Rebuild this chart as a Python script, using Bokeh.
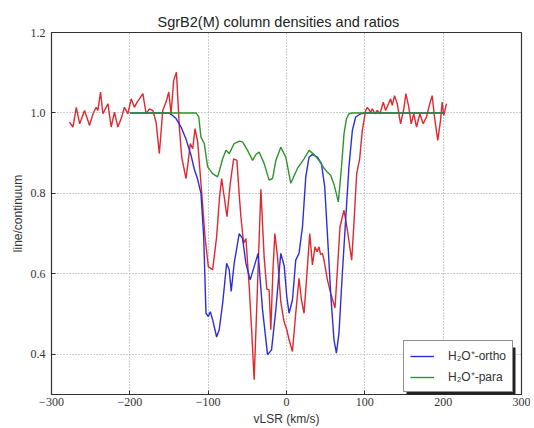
from bokeh.plotting import figure
from bokeh.models import Range1d, Legend, LegendItem, FixedTicker, BoxAnnotation
from bokeh.embed import file_html
from bokeh.resources import INLINE

# observed spectrum (line/continuum)
red_v = [-277, -272.6, -268.4, -264, -257.8, -251.4, -247, -243, -240.8, -237.4, -234.4, -228,
         -223.8, -219.6, -215.3, -211, -206.9, -202.5, -198.3, -194.1, -190.7, -187.8, -183.4,
         -179.2, -175, -170.7, -166.5, -162.3, -158, -153.8, -150.3, -147.4, -144, -140.5,
         -136.8, -133.8, -128.3, -125.3, -122.8, -119.7, -116.8, -113.4, -109.2, -104, -99.8,
         -94.3, -89.2, -85.5, -82.8, -79.5, -76, -71.8, -67.5, -63.3, -60.5, -58.2, -54.8,
         -51.8, -47.6, -44.5, -41.3, -37, -32.7, -28.5, -25.1, -22.2, -20, -17.5, -14.9,
         -11.5, -7.3, -3, 0.4, 3.3, 7.6, 11.8, 16, 19.1, 22.4, 26.7, 29.7, 33.1, 36.4, 39,
         41.5, 43.5, 45.9, 47.9, 52.2, 56.4, 61.9, 65, 68.3, 73.4, 77.7, 83.2, 86.1, 89.6,
         93.4, 96.8, 101, 103.2, 107.4, 109.6, 112.9, 115.9, 119.2, 123.6, 126.5, 129.4,
         132.9, 135, 137.9, 141.4, 145.6, 149.8, 152.4, 156.2, 159.2, 162.5, 166, 170.2,
         174.5, 178.7, 182.9, 186, 188.9, 193.1, 196.6, 198.7, 200.8, 204.2]
red_y = [0.977, 0.965, 1.014, 0.973, 1.006, 0.969, 0.998, 1.014, 1.006, 1.052, 0.998, 1.023,
         0.965, 1.002, 0.965, 0.986, 1.014, 0.998, 1.035, 1.014, 1.027, 1.035, 1.048,
         0.998, 1.010, 1.006, 0.977, 0.899, 1.006, 1.027, 1.052, 0.998, 1.081, 1.101,
         0.965, 0.890, 0.837, 0.882, 0.924, 0.911, 0.961, 0.928, 0.825, 0.692, 0.618,
         0.610, 0.692, 0.790, 0.837, 0.791, 0.742, 0.825, 0.886, 0.882, 0.800, 0.742, 0.676,
         0.688, 0.568, 0.460, 0.337, 0.570, 0.810, 0.640, 0.562, 0.560, 0.461, 0.600, 0.700,
         0.643, 0.530, 0.480, 0.461, 0.436, 0.407, 0.502, 0.589, 0.535, 0.502, 0.618, 0.700,
         0.622, 0.667, 0.655, 0.667, 0.648, 0.651, 0.634, 0.585, 0.552, 0.515, 0.610, 0.717,
         0.758, 0.709, 0.634, 0.725, 0.849, 0.886, 0.957, 1.006, 1.014, 1.002, 1.010, 0.998,
         1.006, 0.998, 1.027, 1.006, 1.019, 1.035, 1.019, 1.043, 1.023, 0.973, 1.010, 1.048,
         1.014, 0.973, 0.998, 0.965, 0.998, 0.973, 0.990, 1.023, 1.043, 0.990, 0.932, 0.981,
         1.027, 0.994, 1.023]

# H2O+ ortho model
ortho_v = [-200, -150, -147, -141, -134.6, -128.3, -121.9, -117.7, -113.4, -109.2, -105.7,
           -102.8, -99.8, -97.3, -94.3, -89.2, -85.9, -81.5, -76.4, -73.1, -70.6, -66.8,
           -60.4, -56.1, -51.8, -46.4, -41.3, -36.2, -30.6, -24.2, -19.1, -13.6, -7.3, -3,
           0.4, 3.3, 7.6, 11.8, 16, 20.4, 24.6, 28.8, 33.1, 39.5, 44.6, 48.8, 52.2, 56.4,
           60.6, 63.7, 67, 71.3, 75.5, 79.7, 84.1, 88.3, 94.6, 100, 200]
ortho_y = [1.0, 1.0, 0.996, 0.986, 0.965, 0.935, 0.895, 0.860, 0.835, 0.800, 0.692,
           0.502, 0.494, 0.506, 0.486, 0.443, 0.461, 0.527, 0.626, 0.610, 0.556, 0.626,
           0.700, 0.688, 0.626, 0.585, 0.618, 0.651, 0.511, 0.399, 0.411, 0.511, 0.651, 0.620,
           0.543, 0.502, 0.535, 0.634, 0.651, 0.717, 0.841, 0.890, 0.897, 0.890, 0.874, 0.816,
           0.700, 0.552, 0.436, 0.403, 0.453, 0.602, 0.734, 0.866, 0.957, 0.990, 0.998, 1.0, 1.0]

# H2O+ para model
para_v = [-200, -115.5, -112, -109.2, -105, -102.5, -100.6, -94.3, -87.9, -81.5, -77.3, -73.1,
          -66.8, -60, -56.1, -49.7, -43.3, -38.5, -34.9, -28.5, -22.2, -17.8, -13.6, -7.3,
          -0.9, 5.5, 10, 14, 22.4, 28.8, 35, 41.5, 47, 52, 56.4, 61, 66.2, 70, 73.4, 76.5,
          79.7, 84, 200]
para_y = [1.0, 1.0, 0.990, 0.940, 0.924, 0.890, 0.866, 0.849, 0.841, 0.886, 0.907, 0.899,
          0.924, 0.930, 0.928, 0.907, 0.882, 0.898, 0.903, 0.874, 0.833, 0.837, 0.882, 0.915,
          0.890, 0.825, 0.845, 0.862, 0.886, 0.907, 0.897, 0.882, 0.865, 0.853, 0.845, 0.820,
          0.779, 0.860, 0.948, 0.985, 0.998, 1.0, 1.0]

x_ticks = [-300, -200, -100, 0, 100, 200, 300]
x_tick_labels = ["\u2212300", "\u2212200", "\u2212100", "0", "100", "200", "300"]
y_ticks = [0.4, 0.6, 0.8, 1.0, 1.2]
y_tick_labels = ["0.4", "0.6", "0.8", "1.0", "1.2"]

title = "SgrB2(M) column densities and ratios"
x_label = "vLSR (km/s)"
y_label = "line/continuum"
legend_labels = ["H\u2082O\u207a-ortho", "H\u2082O\u207a-para"]

p = figure(width=530, height=428, x_range=Range1d(-300, 300), y_range=Range1d(0.3, 1.2),
           output_backend="svg", toolbar_location=None, title=title,
           min_border_left=51, min_border_right=9, min_border_top=32, min_border_bottom=33)

p.title.align = "left"
p.title.offset = 106
p.title.text_font = "Liberation Sans"
p.title.text_font_size = "14.5px"
p.title.text_font_style = "normal"
p.title.text_color = "#222222"
p.title.standoff = 6

p.outline_line_color = "#333333"
p.outline_line_width = 1.2
p.background_fill_color = "white"
p.border_fill_color = "white"

p.xaxis.ticker = FixedTicker(ticks=x_ticks)
p.yaxis.ticker = FixedTicker(ticks=y_ticks)
p.xaxis.major_label_overrides = {t: l for t, l in zip(x_ticks, x_tick_labels)}
p.yaxis.major_label_overrides = {t: l for t, l in zip(y_ticks, y_tick_labels)}

for ax in (p.xaxis, p.yaxis):
    ax.major_tick_in = 4
    ax.major_tick_out = 0
    ax.minor_tick_in = 0
    ax.minor_tick_out = 0
    ax.axis_line_color = "#333333"
    ax.major_tick_line_color = "#333333"
    ax.major_label_text_font = "Liberation Serif"
    ax.major_label_text_font_size = "12px"
    ax.major_label_text_color = "#333333"
    ax.axis_label_text_font = "Liberation Sans"
    ax.axis_label_text_font_size = "12px"
    ax.axis_label_text_font_style = "normal"
    ax.axis_label_text_color = "#333333"

p.xaxis.axis_label = x_label
p.yaxis.axis_label = y_label
p.xaxis.major_label_standoff = 3
p.xaxis.axis_label_standoff = 3
p.yaxis.major_label_standoff = 6
p.yaxis.axis_label_standoff = 3

p.xgrid.ticker = FixedTicker(ticks=x_ticks)
p.ygrid.ticker = FixedTicker(ticks=y_ticks)
for g in (p.xgrid, p.ygrid):
    g.grid_line_color = "#9a9a9a"
    g.grid_line_dash = "1 2"
    g.grid_line_width = 1

p.line(red_v, red_y, line_color="#e0282e", line_width=1.4)
r_ortho = p.line(ortho_v, ortho_y, line_color="#2e2ed8", line_width=1.4)
r_para = p.line(para_v, para_y, line_color="#2e942e", line_width=1.4)

# drop shadow behind the legend box (canvas pixel units)
shadow = BoxAnnotation(left=406, right=515, top=347, bottom=396,
                       left_units="canvas", right_units="canvas",
                       top_units="canvas", bottom_units="canvas",
                       fill_color="#222222", fill_alpha=1, line_color=None)
p.add_layout(shadow)

legend = Legend(items=[LegendItem(label=legend_labels[0], renderers=[r_ortho]),
                       LegendItem(label=legend_labels[1], renderers=[r_para])],
                location=(352, 2))
legend.label_text_font = "Liberation Sans"
legend.label_text_font_size = "12px"
legend.label_text_color = "#333333"
legend.border_line_color = "#222222"
legend.border_line_width = 1
legend.background_fill_color = "white"
legend.background_fill_alpha = 1
legend.padding = 6
legend.spacing = 4
legend.glyph_width = 24
legend.glyph_height = 16
legend.label_height = 16
legend.label_standoff = 14
legend.margin = 0
p.add_layout(legend)

open("out.html", "w").write(file_html(p, INLINE))
